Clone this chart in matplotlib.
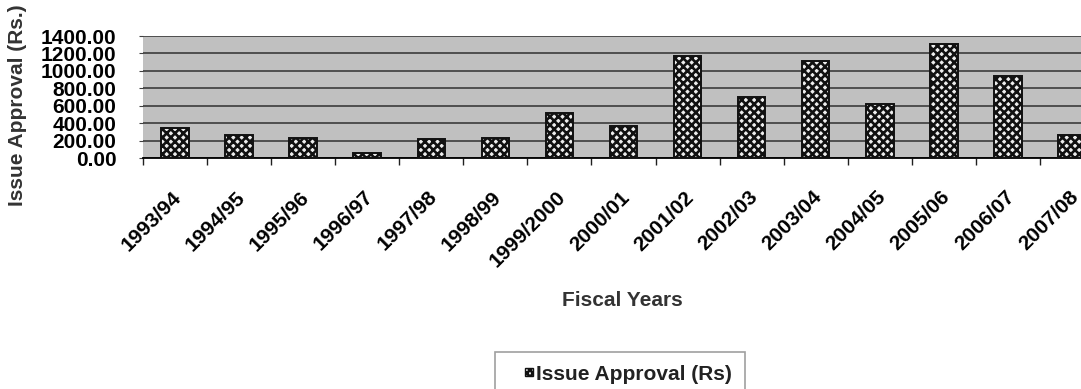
import numpy as np
import matplotlib
matplotlib.use("Agg")
import matplotlib.pyplot as plt
import matplotlib.patches as mpatches
from matplotlib.container import BarContainer
from matplotlib.legend_handler import HandlerPatch
from matplotlib.transforms import ScaledTranslation

years = ['1993/94', '1994/95', '1995/96', '1996/97', '1997/98', '1998/99',
         '1999/2000', '2000/01', '2001/02', '2002/03', '2003/04', '2004/05',
         '2005/06', '2006/07', '2007/08']
approval = [352, 267, 236, 60, 226, 235, 513, 370, 1168, 706, 1116, 624, 1306, 944, 270]
yticks = [0, 200, 400, 600, 800, 1000, 1200, 1400]

plt.rcParams['font.family'] = 'Liberation Sans'
plt.rcParams['font.weight'] = 'bold'
plt.rcParams['hatch.linewidth'] = 1.9

W, H = 1081, 389
fig = plt.figure(figsize=(W / 100, H / 100), dpi=100)
# plot area runs past the right edge, as in the original (last bar is cut)
ax = fig.add_axes([143 / W, 1 - 158.3 / H, 961 / W, 122.3 / H])
ax.set_facecolor('#c0c0c0')

x = np.arange(len(years))
bars = ax.bar(x, approval, width=0.43, color='#eeeeee', edgecolor='#111111',
              hatch='xxxx', linewidth=1.4, label='Issue Approval (Rs)', zorder=3)

ax.set_xlim(-0.5, len(years) - 0.5)
ax.set_ylim(0, 1400)
ax.set_yticks(yticks)
ax.set_yticklabels(['%.2f' % v for v in yticks], fontsize=15, fontweight='bold')
ax.yaxis.grid(True, color='#303030', linewidth=1.1)
ax.set_axisbelow(True)

ax.set_xticks(x)
ax.set_xticklabels(years, rotation=45, ha='right', va='top', fontsize=15, fontweight='bold')
ax.set_xticks(np.arange(-0.5, len(years), 1), minor=True)
ax.tick_params(axis='x', which='major', length=0, pad=21)
ax.tick_params(axis='x', which='minor', length=5, width=1, color='#202020')
ax.tick_params(axis='y', length=3, pad=16, color='#404040')
off = ScaledTranslation(0.10, 0, fig.dpi_scale_trans)
for lab in ax.get_xticklabels():
    lab.set_transform(lab.get_transform() + off)

for s in ['top', 'right', 'left']:
    ax.spines[s].set_visible(False)
ax.spines['bottom'].set_color('black')
ax.spines['bottom'].set_linewidth(1.3)

fig.text(18 / W, 1 - 105 / H, 'Issue Approval (Rs.)', rotation=90,
         ha='center', va='center', fontsize=15, fontweight='bold', color='#333333')
fig.text(622 / W, 1 - 300 / H, 'Fiscal Years', ha='center', va='center',
         fontsize=15, fontweight='bold', color='#333333')


def small_box(legend, orig_handle, xdescent, ydescent, width, height, fontsize):
    s = 0.4 * fontsize
    return mpatches.Rectangle((width - s - xdescent, (height - s) / 2 - ydescent), s, s)


def from_first_bar(handle, orig):
    handle.update_from(orig.patches[0])
    handle.set_hatch('xxxxx')
    handle.set_linewidth(1.0)


leg = ax.legend(loc='upper left', bbox_to_anchor=(495 / W, 1 - 352 / H),
                bbox_transform=fig.transFigure, borderaxespad=0, borderpad=0.6,
                handlelength=1.23, handletextpad=0.15, fancybox=False,
                prop={'size': 15, 'weight': 'bold'},
                handler_map={BarContainer: HandlerPatch(patch_func=small_box,
                                                        update_func=from_first_bar)})
leg.get_frame().set_edgecolor('#888888')
leg.get_frame().set_linewidth(1.2)
for t in leg.get_texts():
    t.set_color('#222222')

fig.savefig('out.png', dpi=100)
